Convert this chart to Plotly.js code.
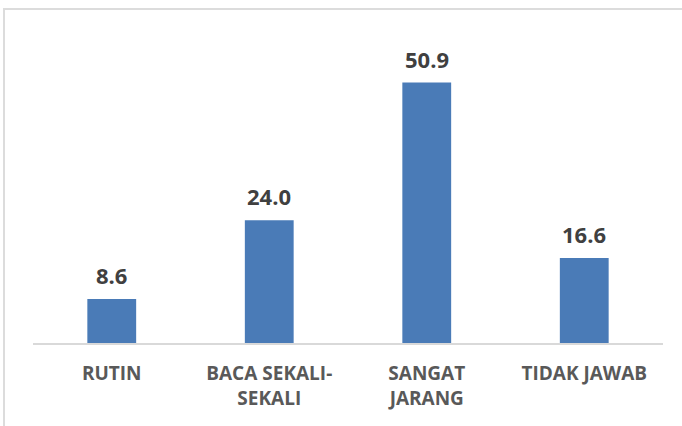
<!DOCTYPE html>
<html>
<head>
<meta charset="utf-8">
<script src="https://cdn.plot.ly/plotly-3.0.1.min.js"></script>
<style>
html,body{margin:0;padding:0;background:#fff;overflow:hidden;}
#wrap{position:relative;width:682px;height:426px;}
#chart{position:absolute;left:0;top:0;width:682px;height:426px;}
#frame{position:absolute;left:3px;top:8px;width:700px;height:500px;border-left:2px solid #dcdcdc;border-top:2px solid #dcdcdc;pointer-events:none;}
</style>
</head>
<body>
<div id="wrap"><div id="chart"></div><div id="frame"></div></div>
<script>
const categories = ["RUTIN", "BACA SEKALI-<br>SEKALI", "SANGAT<br>JARANG", "TIDAK JAWAB"];
const values = [8.6, 24.0, 50.9, 16.6];
const valueLabels = values.map(v => v.toFixed(1));

const trace = {
  type: 'bar',
  x: categories,
  y: values,
  marker: {color: '#4a7bb7'},
  hoverinfo: 'none'
};

const annotations = categories.map((c, i) => ({
  x: c, y: values[i], xref: 'x', yref: 'y',
  text: valueLabels[i], showarrow: false,
  yanchor: 'bottom', yshift: 7,
  font: {family: 'Open Sans, Liberation Sans, sans-serif', size: 22, color: '#404040', weight: 'bold'}
}));

const layout = {
  width: 682, height: 426,
  margin: {l: 33, r: 19, t: 36, b: 83},
  paper_bgcolor: '#ffffff', plot_bgcolor: '#ffffff',
  bargap: 0.69,
  showlegend: false,
  xaxis: {
    type: 'category',
    showline: true, linecolor: '#d9d9d9', linewidth: 1.5,
    showgrid: false, zeroline: false, ticks: '',
    ticklabelstandoff: 13,
    tickfont: {family: 'Open Sans, sans-serif', size: 19, color: '#595959', weight: 'bold'}
  },
  yaxis: {
    range: [0, 60], visible: false, showgrid: false, zeroline: false
  },
  annotations: annotations
};

Plotly.newPlot('chart', [trace], layout, {displayModeBar: false, staticPlot: true});
</script>
</body>
</html>
